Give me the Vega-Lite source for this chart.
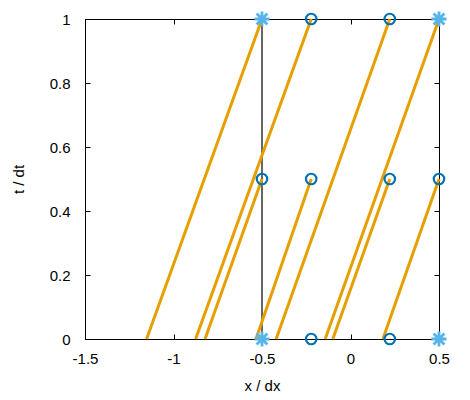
{
  "$schema": "https://vega.github.io/schema/vega-lite/v6.json",
  "width": 354,
  "height": 320,
  "autosize": "none",
  "padding": {"left": 85, "top": 19, "right": 31, "bottom": 61},
  "background": "white",
  "config": {
    "view": {"stroke": "black", "strokeWidth": 1},
    "font": "Liberation Sans"
  },
  "datasets": {
    "lines": [
      {"id": "A", "x": -1.152, "t": 0}, {"id": "A", "x": -0.5, "t": 1},
      {"id": "B", "x": -0.875, "t": 0}, {"id": "B", "x": -0.222, "t": 1},
      {"id": "C", "x": -0.42, "t": 0}, {"id": "C", "x": 0.222, "t": 1},
      {"id": "D", "x": -0.143, "t": 0}, {"id": "D", "x": 0.5, "t": 1},
      {"id": "E", "x": -0.822, "t": 0}, {"id": "E", "x": -0.5, "t": 0.5},
      {"id": "F", "x": -0.534, "t": 0}, {"id": "F", "x": -0.222, "t": 0.5},
      {"id": "G", "x": -0.1, "t": 0}, {"id": "G", "x": 0.222, "t": 0.5},
      {"id": "H", "x": 0.183, "t": 0}, {"id": "H", "x": 0.5, "t": 0.5}
    ],
    "circles": [
      {"x": -0.222, "t": 0}, {"x": 0.222, "t": 0},
      {"x": -0.5, "t": 0.5}, {"x": -0.222, "t": 0.5}, {"x": 0.222, "t": 0.5}, {"x": 0.5, "t": 0.5},
      {"x": -0.222, "t": 1}, {"x": 0.222, "t": 1}
    ],
    "stars": [
      {"x": -0.5, "t": 0}, {"x": 0.5, "t": 0}, {"x": -0.5, "t": 1}, {"x": 0.5, "t": 1}
    ],
    "wall": [
      {"x": -0.5, "t0": 0, "t1": 1}
    ]
  },
  "layer": [
    {
      "data": {"name": "wall"},
      "mark": {"type": "rule", "color": "black", "strokeWidth": 1.2},
      "encoding": {
        "x": {
          "field": "x", "type": "quantitative",
          "scale": {"domain": [-1.5, 0.5], "nice": false, "zero": false},
          "axis": {
            "title": "x / dx", "values": [-1.5, -1, -0.5, 0, 0.5], "labelExpr": "'' + datum.value",
            "grid": false, "domain": false, "ticks": true, "tickColor": "black", "tickSize": 5, "tickWidth": 1, "offset": -5,
            "labelFlush": false, "labelOverlap": false,
            "labelFont": "Liberation Sans", "labelFontSize": 15, "labelColor": "black", "labelPadding": 12,
            "titleFont": "Liberation Sans", "titleFontSize": 15, "titleFontWeight": "normal", "titleColor": "black",
            "titleY": 51, "titleBaseline": "middle"
          }
        },
        "y": {
          "field": "t0", "type": "quantitative",
          "scale": {"domain": [0, 1], "nice": false},
          "axis": {
            "title": "t / dt", "values": [0, 0.2, 0.4, 0.6, 0.8, 1], "labelExpr": "'' + datum.value",
            "grid": false, "domain": false, "ticks": true, "tickColor": "black", "tickSize": 5, "tickWidth": 1, "offset": -5,
            "labelFlush": false, "labelOverlap": false,
            "labelFont": "Liberation Sans", "labelFontSize": 15, "labelColor": "black", "labelPadding": 15,
            "titleFont": "Liberation Sans", "titleFontSize": 15, "titleFontWeight": "normal", "titleColor": "black",
            "titleX": -72, "titleY": 160, "titleBaseline": "middle", "titleAlign": "center"
          }
        },
        "y2": {"field": "t1"}
      }
    },
    {
      "data": {"name": "lines"},
      "mark": {"type": "line", "color": "#E69F00", "strokeWidth": 3},
      "encoding": {
        "x": {"field": "x", "type": "quantitative", "axis": null},
        "y": {"field": "t", "type": "quantitative", "axis": null},
        "detail": {"field": "id"}
      }
    },
    {
      "data": {"name": "circles"},
      "mark": {"type": "point", "shape": "circle", "filled": false, "stroke": "#0072B2", "strokeWidth": 2.2, "size": 110, "opacity": 1},
      "encoding": {
        "x": {"field": "x", "type": "quantitative", "axis": null},
        "y": {"field": "t", "type": "quantitative", "axis": null}
      }
    },
    {
      "data": {"name": "stars"},
      "mark": {"type": "point", "shape": "M-1,0L1,0M0,-1L0,1M-0.72,-0.72L0.72,0.72M-0.72,0.72L0.72,-0.72", "filled": false, "stroke": "#56B4E9", "strokeWidth": 2.8, "size": 225, "opacity": 1},
      "encoding": {
        "x": {"field": "x", "type": "quantitative", "axis": null},
        "y": {"field": "t", "type": "quantitative", "axis": null}
      }
    },
    {
      "data": {"name": "stars"},
      "mark": {"type": "point", "opacity": 0},
      "encoding": {
        "x": {"field": "x", "type": "quantitative", "axis": {"orient": "top", "labels": false, "title": null, "values": [-1.5, -1, -0.5, 0, 0.5], "grid": false, "domain": false, "ticks": true, "tickColor": "black", "tickSize": 5, "tickWidth": 1, "offset": -5}},
        "y": {"field": "t", "type": "quantitative", "axis": {"orient": "right", "labels": false, "title": null, "values": [0, 0.2, 0.4, 0.6, 0.8, 1], "grid": false, "domain": false, "ticks": true, "tickColor": "black", "tickSize": 5, "tickWidth": 1, "offset": -5}}
      }
    }
  ],
  "resolve": {"axis": {"x": "independent", "y": "independent"}}
}
